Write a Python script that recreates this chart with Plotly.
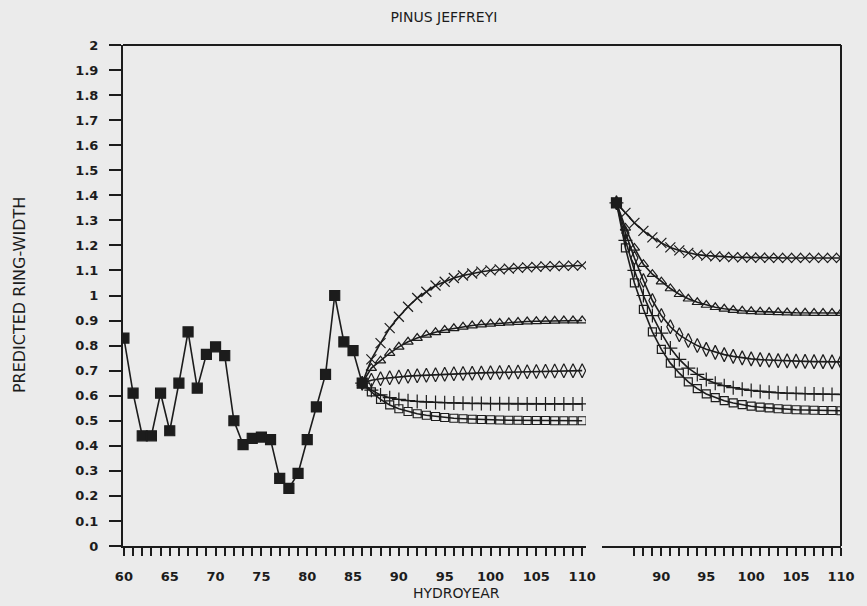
import plotly.graph_objects as go

# Observed ring-width series (hydroyears 60-86)
obs_years = list(range(60, 87))
obs_width = [0.83, 0.61, 0.44, 0.44, 0.61, 0.46, 0.65, 0.855, 0.63, 0.765,
             0.795, 0.76, 0.50, 0.405, 0.43, 0.435, 0.425, 0.27, 0.23, 0.29,
             0.425, 0.555, 0.685, 1.00, 0.815, 0.78, 0.65]

# Projections starting from hydroyear 86 (left panel)
left_years = list(range(86, 111))
left_x = [0.65, 0.745, 0.81, 0.87, 0.915, 0.955, 0.99, 1.015, 1.04, 1.055,
          1.07, 1.08, 1.088, 1.095, 1.10, 1.104, 1.107, 1.11, 1.112, 1.114,
          1.116, 1.117, 1.118, 1.119, 1.12]
left_tri = [0.65, 0.71, 0.74, 0.77, 0.795, 0.815, 0.83, 0.843, 0.853, 0.862,
            0.869, 0.875, 0.88, 0.884, 0.887, 0.89, 0.892, 0.894, 0.896, 0.897,
            0.898, 0.899, 0.90, 0.90, 0.90]
left_dia = [0.65, 0.662, 0.668, 0.672, 0.675, 0.678, 0.68, 0.682, 0.684, 0.686,
            0.688, 0.689, 0.69, 0.691, 0.692, 0.693, 0.694, 0.695, 0.696, 0.697,
            0.698, 0.699, 0.70, 0.70, 0.70]
left_plus = [0.65, 0.622, 0.603, 0.592, 0.585, 0.58, 0.577, 0.575, 0.573, 0.572,
             0.571, 0.57, 0.569, 0.569, 0.568, 0.568, 0.568, 0.567, 0.567, 0.567,
             0.567, 0.567, 0.567, 0.567, 0.567]
left_sq = [0.65, 0.615, 0.585, 0.563, 0.548, 0.537, 0.528, 0.522, 0.517, 0.513,
           0.51, 0.508, 0.506, 0.505, 0.504, 0.503, 0.502, 0.502, 0.501, 0.501,
           0.501, 0.50, 0.50, 0.50, 0.50]

# Projections starting from hydroyear 85 (right panel)
right_start_year = [85]
right_start_width = [1.37]
right_years = list(range(85, 111))
right_x = [1.37, 1.33, 1.29, 1.258, 1.232, 1.21, 1.192, 1.18, 1.17, 1.163,
           1.159, 1.156, 1.154, 1.153, 1.152, 1.151, 1.151, 1.15, 1.15, 1.15,
           1.15, 1.15, 1.15, 1.15, 1.15, 1.15]
right_tri = [1.37, 1.27, 1.19, 1.125, 1.085, 1.055, 1.028, 1.005, 0.987, 0.973,
             0.962, 0.953, 0.947, 0.942, 0.939, 0.937, 0.935, 0.934, 0.933, 0.932,
             0.931, 0.931, 0.93, 0.93, 0.93, 0.93]
right_dia = [1.37, 1.25, 1.15, 1.06, 0.98, 0.92, 0.875, 0.843, 0.82, 0.80,
             0.785, 0.773, 0.764, 0.757, 0.751, 0.747, 0.744, 0.742, 0.74, 0.739,
             0.738, 0.737, 0.736, 0.736, 0.735, 0.735]
right_plus = [1.37, 1.22, 1.10, 1.00, 0.92, 0.85, 0.79, 0.745, 0.71, 0.685,
              0.665, 0.65, 0.64, 0.632, 0.626, 0.621, 0.617, 0.614, 0.612, 0.61,
              0.609, 0.608, 0.607, 0.606, 0.605, 0.605]
right_sq = [1.37, 1.19, 1.05, 0.945, 0.855, 0.785, 0.73, 0.69, 0.655, 0.628,
            0.607, 0.592, 0.58, 0.571, 0.564, 0.558, 0.554, 0.551, 0.548, 0.546,
            0.544, 0.543, 0.542, 0.541, 0.541, 0.54]

# Axis ticks
y_tick_vals = [round(i * 0.1, 1) for i in range(21)]
y_tick_text = ["0", "0.1", "0.2", "0.3", "0.4", "0.5", "0.6", "0.7", "0.8", "0.9",
               "1", "1.1", "1.2", "1.3", "1.4", "1.5", "1.6", "1.7", "1.8", "1.9", "2"]
left_tick_vals = list(range(60, 111))
right_tick_vals = list(range(87, 111))

INK = "#1c1c1c"
PAPER = "#ebebeb"
FONT = "DejaVu Sans"

fig = go.Figure()


def series(xs, ys, symbol, size, axis):
    fig.add_trace(go.Scatter(
        x=xs, y=ys, xaxis=axis, yaxis="y", mode="lines+markers",
        line=dict(color=INK, width=1.6),
        marker=dict(symbol=symbol, size=size, color=INK,
                    line=dict(color=INK, width=1.2)),
        showlegend=False, hoverinfo="x+y"))


# left panel
series(left_years, left_x, "x-thin", 10, "x")
series(left_years, left_tri, "triangle-up-open", 9, "x")
series(left_years, left_dia, "diamond-tall-open", 10, "x")
series(left_years, left_plus, "cross-thin", 10, "x")
series(left_years, left_sq, "square-open", 8, "x")
series(obs_years, obs_width, "square", 10, "x")

# right panel
series(right_years, right_x, "x-thin", 10, "x2")
series(right_years, right_tri, "triangle-up-open", 9, "x2")
series(right_years, right_dia, "diamond-tall-open", 10, "x2")
series(right_years, right_plus, "cross-thin", 10, "x2")
series(right_years, right_sq, "square-open", 8, "x2")
series(right_start_year, right_start_width, "square", 10, "x2")

tick_font = dict(family=FONT, size=13, color=INK, weight="bold")

common_x = dict(
    ticks="outside", ticklen=8, tickwidth=2, tickcolor=INK,
    showline=True, linewidth=2, linecolor=INK,
    showgrid=False, zeroline=False, anchor="y",
    tickfont=tick_font,
    ticklabelstandoff=9,
)

fig.update_layout(
    width=867, height=606,
    margin=dict(l=123, r=17, t=45, b=60),
    paper_bgcolor=PAPER, plot_bgcolor=PAPER,
    xaxis=dict(domain=[0, 0.645], range=[59.9, 110.43],
               tickmode="array", tickvals=left_tick_vals,
               ticktext=[str(v) if v % 5 == 0 else "" for v in left_tick_vals],
               **common_x),
    xaxis2=dict(domain=[0.667, 1], range=[83.38, 110.0],
                tickmode="array", tickvals=right_tick_vals,
                ticktext=[str(v) if v % 5 == 0 else "" for v in right_tick_vals],
                **common_x),
    yaxis=dict(range=[0, 2.0], tickmode="array", tickvals=y_tick_vals,
               ticktext=y_tick_text, ticks="outside", ticklen=12, tickwidth=2,
               tickcolor=INK, showline=True, linewidth=2, linecolor=INK,
               showgrid=False, zeroline=False,
               tickfont=tick_font,
               ticklabelstandoff=8),
    title=dict(text="PINUS JEFFREYI", x=0.512, y=1 - 17 / 606,
               xanchor="center", yanchor="middle",
               font=dict(family=FONT, size=14, color=INK)),
    shapes=[
        dict(type="line", xref="paper", yref="paper", x0=0, x1=1, y0=1, y1=1,
             line=dict(color=INK, width=2)),
        dict(type="line", xref="paper", yref="paper", x0=1, x1=1, y0=0, y1=1,
             line=dict(color=INK, width=2)),
    ],
    annotations=[
        dict(text="HYDROYEAR", xref="paper", yref="paper", x=0.465, y=-0.094,
             xanchor="center", yanchor="middle", showarrow=False,
             font=dict(family=FONT, size=14, color=INK)),
        dict(text="PREDICTED RING-WIDTH", xref="paper", yref="paper",
             x=-0.144, y=0.5, textangle=-90, xanchor="center", yanchor="middle",
             showarrow=False, font=dict(family=FONT, size=16, color=INK)),
    ],
)

fig.write_html("out.html")
